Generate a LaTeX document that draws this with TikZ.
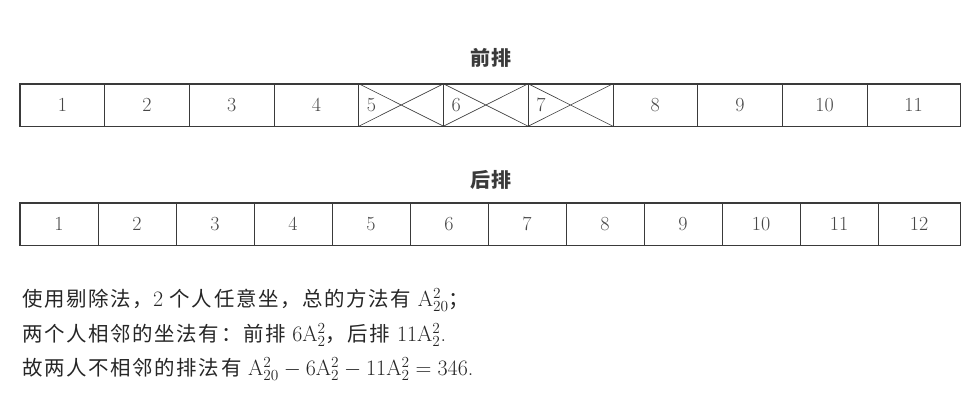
\RequirePackage{fix-cm}
\documentclass[tikz,border=0pt]{standalone}
\usepackage{fontspec}
\newfontfamily\cjk[Scale=0.93, LetterSpace=8]{Noto Sans CJK SC}
\usepackage{tikz}
\usetikzlibrary{positioning}

\definecolor{inkgray}{HTML}{3A3A3A}
\definecolor{numgray}{HTML}{474747}

\tikzset{
  seat/.style={draw=inkgray, line width=0.8pt, minimum height=42pt, inner sep=0pt,
    text=numgray, font=\fontsize{20}{20}\selectfont},
  frontseat/.style={seat, minimum width=84.7pt},
  backseat/.style={seat, minimum width=78pt},
  rowtitle/.style={text=inkgray, font=\cjk\bfseries\fontsize{21.5}{21.5}\selectfont},
  noteline/.style={anchor=west, inner sep=0pt, text=black!85, font=\fontsize{22}{24}\selectfont}
}

\begin{document}
\begin{tikzpicture}[x=1pt,y=-1pt]
\useasboundingbox (0,0) rectangle (972,419);

% front row
\node[rowtitle] (fronttitle) at (491,58) {前排};
\foreach \i in {1,2,3,4,8,9,10}
  \node[frontseat] (f\i) at ({20+(\i-0.5)*84.7},105) {\i};
\node[frontseat, minimum width=93pt] (f11) at (913.5,105) {11};
\foreach \i in {5,6,7}{
  \node[frontseat, label={[anchor=west, xshift=5pt, text=numgray,
      font=\fontsize{20}{20}\selectfont]west:\i}] (f\i) at ({20+(\i-0.5)*84.7},105) {};
  \draw[inkgray, line width=0.6pt] (f\i.north west) -- (f\i.south east)
    (f\i.south west) -- (f\i.north east);
}
\draw[inkgray, line width=1.3pt] (f1.north west) rectangle (f11.south east);

% back row
\node[rowtitle] (backtitle) at (491,180) {后排};
\foreach \i in {1,...,11}
  \node[backseat] (b\i) at ({20+(\i-0.5)*78},224) {\i};
\node[backseat, minimum width=82pt] (b12) at (919,224) {12};
\draw[inkgray, line width=1.3pt] (b1.north west) rectangle (b12.south east);

% solution text
\node[noteline] (line1) at (22,300)
  {{\cjk 使用剔除法，}2 {\cjk 个人任意坐，总的方法有} $\mathrm{A}_{20}^{2}${\cjk ；}};
\node[noteline] (line2) at (22,335)
  {{\cjk 两个人相邻的坐法有：前排} 6$\mathrm{A}_{2}^{2}${\cjk ，后排} 11$\mathrm{A}_{2}^{2}$.};
\node[noteline] (line3) at (22,369)
  {{\cjk 故两人不相邻的排法有} $\mathrm{A}_{20}^{2}-6\mathrm{A}_{2}^{2}-11\mathrm{A}_{2}^{2}=346$.};
\end{tikzpicture}
\end{document}
